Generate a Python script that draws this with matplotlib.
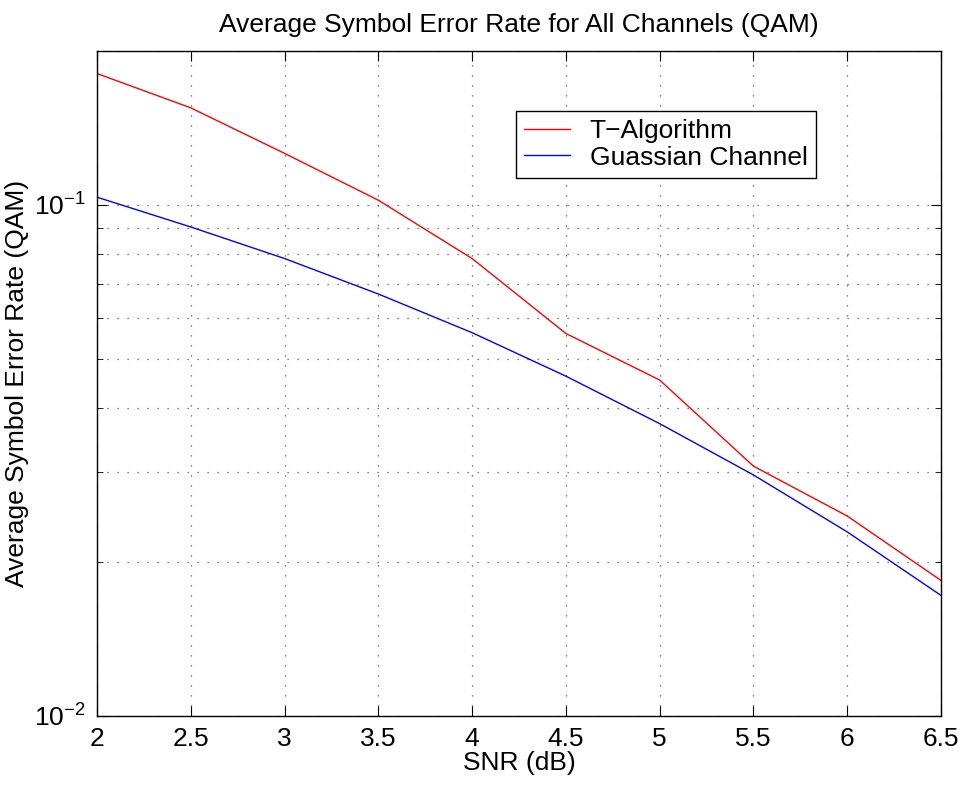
import matplotlib
matplotlib.use("Agg")
from matplotlib import pyplot as plt
from matplotlib import ticker

snr_db = [2, 2.5, 3, 3.5, 4, 4.5, 5, 5.5, 6, 6.5]
ser_t_algorithm = [0.1807, 0.1548, 0.1261, 0.1021, 0.0785, 0.0560, 0.0454, 0.0308, 0.0246, 0.0184]
ser_gaussian = [0.1035, 0.0905, 0.0785, 0.0669, 0.0562, 0.0462, 0.0373, 0.0296, 0.0229, 0.0172]
x_ticks = [2, 2.5, 3, 3.5, 4, 4.5, 5, 5.5, 6, 6.5]
x_tick_labels = ["2", "2.5", "3", "3.5", "4", "4.5", "5", "5.5", "6", "6.5"]

plt.rcParams["font.family"] = ["Liberation Sans", "DejaVu Sans"]
plt.rcParams["mathtext.default"] = "regular"

fs = 19

fig = plt.figure(figsize=(9.66, 7.86), dpi=100)
ax = fig.add_axes([0.1004, 0.0894, 0.8737, 0.8457])

ax.plot(snr_db, ser_t_algorithm, color="red", linewidth=1.0, label="T\u2212Algorithm")
ax.plot(snr_db, ser_gaussian, color="blue", linewidth=1.0, label="Guassian Channel")

ax.set_yscale("log")
ax.set_xlim(2, 6.5)
ax.set_ylim(0.01, 0.2)
ax.set_xticks(x_ticks)
ax.set_xticklabels(x_tick_labels)
ax.yaxis.set_major_locator(ticker.LogLocator(base=10, numticks=10))
ax.yaxis.set_minor_locator(ticker.LogLocator(base=10, subs=range(2, 10), numticks=20))
ax.yaxis.set_minor_formatter(ticker.NullFormatter())

grid_style = dict(color="#555555", linestyle=(0, (1, 7)), linewidth=0.9)
ax.grid(True, which="major", axis="both", **grid_style)
ax.grid(True, which="minor", axis="y", **grid_style)

ax.tick_params(which="both", direction="in", top=True, right=True, labelsize=fs)
ax.tick_params(which="major", length=7, pad=8)
ax.tick_params(which="minor", length=4)
for spine in ax.spines.values():
    spine.set_linewidth(1.0)

ax.set_title("Average Symbol Error Rate for All Channels (QAM)", fontsize=fs, pad=14)
ax.set_xlabel("SNR (dB)", fontsize=fs, labelpad=0)
ax.set_ylabel("Average Symbol Error Rate (QAM)", fontsize=fs, labelpad=4)

leg = ax.legend(loc="upper left", bbox_to_anchor=(0.4964, 0.9097), borderaxespad=0,
                fontsize=fs, fancybox=False, framealpha=1, edgecolor="black",
                handlelength=1.75, handletextpad=0.75, borderpad=0.3, labelspacing=0.1)
leg.get_frame().set_linewidth(1.0)

fig.savefig("out.png", dpi=100)
